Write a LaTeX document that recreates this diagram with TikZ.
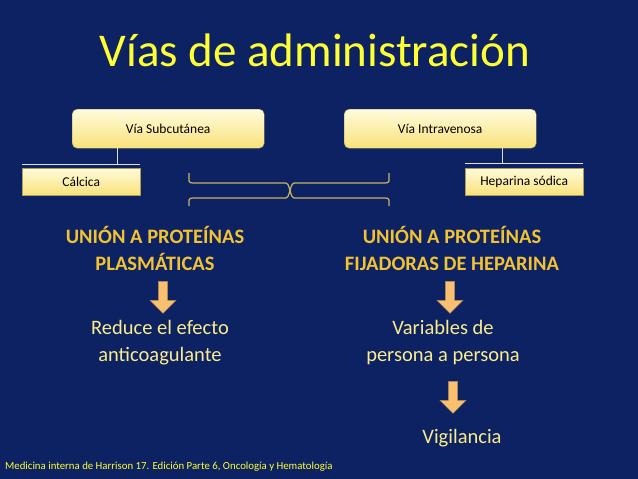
\documentclass[tikz,border=0pt]{standalone}
\usepackage{fontspec}
\setmainfont{Carlito}
\usetikzlibrary{shapes.arrows}
\definecolor{bg}{HTML}{0C2262}
\definecolor{ttl}{HTML}{FFFF33}
\definecolor{gold}{HTML}{F2C232}
\definecolor{pale}{HTML}{FAEB8C}
\definecolor{boxtop}{HTML}{FFFBDC}
\definecolor{boxbot}{HTML}{F9E27A}
\definecolor{arr}{HTML}{F8C070}
\tikzset{
  x=1pt,y=-1pt,
  ybox/.style={draw=boxbot!70!black,thin,top color=boxtop,bottom color=boxbot,font=\fontsize{13.5}{15}\selectfont,inner sep=0pt,anchor=north west},
  conn/.style={draw=white!75!gray,line width=0.6pt},
  brace/.style={draw=boxbot!80!black,line width=1.2pt,line join=round},
  bigtxt/.style={text=gold,font=\fontsize{20.5}{27}\selectfont\bfseries,align=center},
  lowtxt/.style={text=pale,font=\fontsize{20.5}{27}\selectfont,align=center},
  darr/.style={single arrow,draw=arr!70!black,fill=arr,shape border rotate=270,minimum height=32pt,minimum width=26pt,single arrow head extend=4pt,inner sep=2pt}
}
\begin{document}
\begin{tikzpicture}
\fill[bg] (0,0) rectangle (638,479);
\useasboundingbox (0,0) rectangle (638,479);
\node[text=ttl,font=\fontsize{47}{50}\selectfont] (title) at (315,50) {Vías de administración};
\node[ybox,rounded corners=5pt,minimum width=192pt,minimum height=39pt] (sub) at (72,109) {Vía Subcutánea};
\node[ybox,rounded corners=5pt,minimum width=192pt,minimum height=39pt] (iv) at (344,109) {Vía Intravenosa};
\node[ybox,minimum width=118pt,minimum height=27pt] (cal) at (22,168) {Cálcica};
\node[ybox,minimum width=118pt,minimum height=27pt] (hep) at (465,168) {Heparina sódica};
\coordinate (c1) at (117,164);
\coordinate (c2) at (502,163);
\draw[conn] (sub.south west) ++(45,0) -- (c1);
\draw[conn] (22,164) -- (140,164);
\draw[conn] (iv.south west) ++(158,0) -- (c2);
\draw[conn] (465,163) -- (583,163);
\draw[brace] (189,173) -- (189,181) to[out=-90,in=180] (193,183) -- (286,183) to[out=0,in=-90] (290,190) to[out=-90,in=180] (294,183) -- (385,183) to[out=0,in=-90] (389,181) -- (389,173);
\draw[brace] (189,206) -- (189,200) to[out=90,in=180] (193,198) -- (286,198) to[out=0,in=90] (290,191) to[out=90,in=180] (294,198) -- (385,198) to[out=0,in=90] (389,200) -- (389,206);
\node[bigtxt] (u1) at (155,248) {UNIÓN A PROTEÍNAS\\PLASMÁTICAS};
\node[bigtxt] (u2) at (452,248) {UNIÓN A PROTEÍNAS\\FIJADORAS DE HEPARINA};
\node[darr] (a1) at (163,295) {};
\node[darr] (a2) at (450,295) {};
\node[lowtxt] (r1) at (160,343) {Reduce el efecto\\anticoagulante};
\node[lowtxt] (r2) at (443,343) {Variables de\\persona a persona};
\node[darr] (a3) at (453,395) {};
\node[lowtxt] (vig) at (462,438) {Vigilancia};
\node[text=ttl,font=\fontsize{10.8}{12}\selectfont,anchor=west,inner sep=0pt] (foot) at (5,467) {Medicina interna de Harrison 17. Edición Parte 6, Oncología y Hematología};
\end{tikzpicture}
\end{document}
